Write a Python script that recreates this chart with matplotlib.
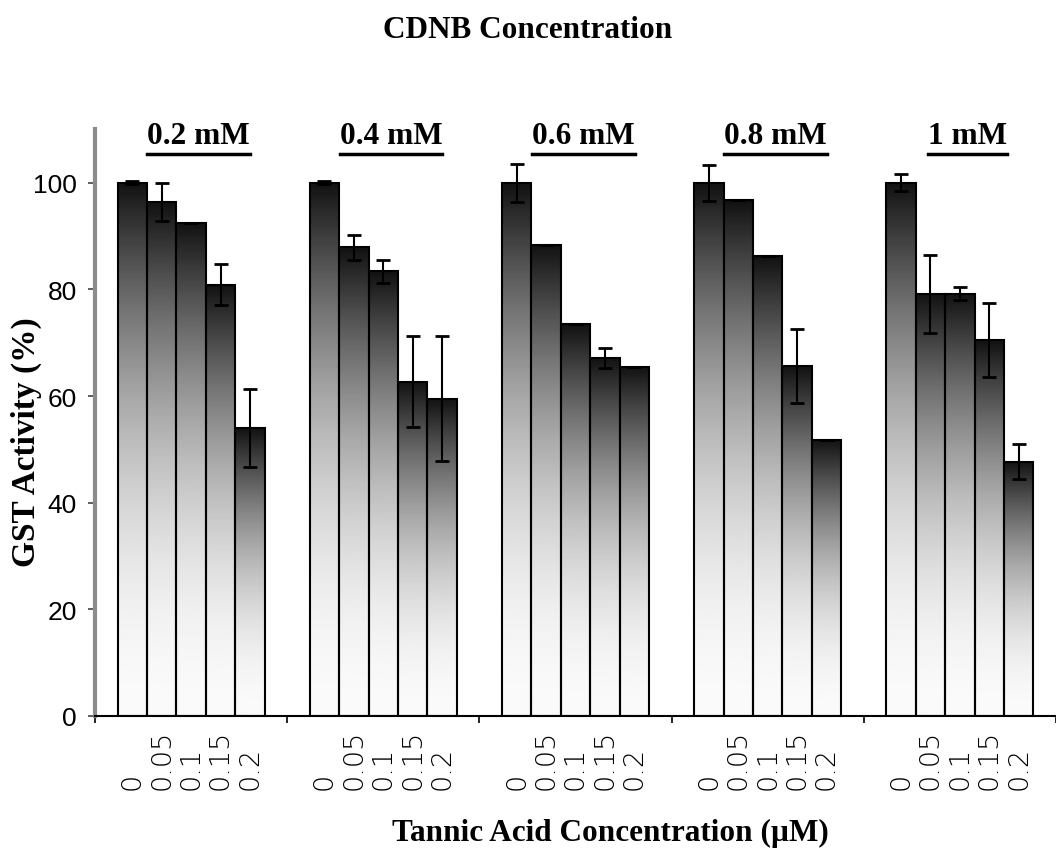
import numpy as np
import matplotlib
matplotlib.use("Agg")
import matplotlib.pyplot as plt
from matplotlib.lines import Line2D

# GST activity (%) for each CDNB concentration, bars = tannic acid doses
cdnb_labels = ["0.2 mM", "0.4 mM", "0.6 mM", "0.8 mM", "1 mM"]
tannic_labels = ["0", "0.05", "0.1", "0.15", "0.2"]

activity = [
    [100.0, 96.4, 92.5, 80.9, 54.0],
    [100.0, 87.9, 83.4, 62.7, 59.5],
    [100.0, 88.4, 73.5, 67.2, 65.5],
    [100.0, 96.7, 86.2, 65.6, 51.8],
    [100.0, 79.2, 79.2, 70.5, 47.7],
]
errors = [
    [0.3, 3.6, 0.0, 3.8, 7.3],
    [0.3, 2.3, 2.2, 8.5, 11.7],
    [3.6, 0.0, 0.0, 1.9, 0.0],
    [3.4, 0.0, 0.0, 6.9, 0.0],
    [1.6, 7.3, 1.2, 7.0, 3.3],
]

serif = ["Liberation Serif", "DejaVu Serif"]

fig = plt.figure(figsize=(10.56, 8.54), dpi=100)
ax = fig.add_axes([95 / 1056, 1 - 717 / 854, 1 - 95 / 1056, (717 - 130) / 854])

bar_w = 0.153
n = len(tannic_labels)

# vertical gradient: dark at the top of each bar, fading to white at the base
t = np.linspace(0, 1, 256)
shade = 0.07 + 0.91 * (1 - (1 - t) ** 2)   # t=0 top, t=1 bottom
grad = shade[:, None]

for g, (vals, errs) in enumerate(zip(activity, errors)):
    xs = g + (np.arange(n) - (n - 1) / 2) * bar_w
    for x, v in zip(xs, vals):
        ax.imshow(grad, cmap="gray", vmin=0, vmax=1, aspect="auto",
                  extent=[x - bar_w / 2, x + bar_w / 2, 0, v], zorder=1,
                  interpolation="bilinear")
    ax.bar(xs, vals, width=bar_w, facecolor="none", edgecolor="black",
           linewidth=1.5, zorder=2)
    ax.errorbar(xs, vals, yerr=errs, fmt="none", ecolor="black",
                elinewidth=1.5, capsize=5, capthick=2, zorder=3)
    for x, lab in zip(xs, tannic_labels):
        ax.text(x, -73 / 587, lab, transform=ax.get_xaxis_transform(),
                rotation=90, ha="center", va="bottom", fontsize=19.5,
                family="DejaVu Sans", fontweight="light")

ax.set_xlim(-0.5, -0.5 + 961 / 194)
ax.set_ylim(0, 110.1)

ax.set_xticks(np.arange(-0.5, 5, 1.0))
ax.set_xticklabels([])
ax.tick_params(axis="x", length=5, width=1.2, direction="out")
ax.set_yticks([0, 20, 40, 60, 80, 100])
ax.set_yticklabels(["0", "20", "40", "60", "80", "100"],
                   family="Liberation Sans", fontsize=19)
ax.tick_params(axis="y", length=5, width=1.2, pad=8, color="#444444")

for side in ["top", "right"]:
    ax.spines[side].set_visible(False)
ax.spines["left"].set_color("#8c8c8c")
ax.spines["left"].set_linewidth(3)
ax.spines["bottom"].set_linewidth(1.5)

# group headings with underline
heads = []
for g, lab in enumerate(cdnb_labels):
    heads.append(ax.text(g + 0.04, 107.5, lab, ha="center", va="baseline",
                         family=serif, fontweight="bold", fontsize=22.5))

fig.text(528 / 1056, 1 - 30 / 854, "CDNB Concentration", ha="center",
         va="center", family=serif, fontweight="bold", fontsize=22.5)
fig.text(26 / 1056, 1 - 442 / 854, "GST Activity (%)", ha="center",
         va="center", rotation=90, family=serif, fontweight="bold", fontsize=24)
fig.text(610 / 1056, 1 - 833 / 854, "Tannic Acid Concentration (µM)",
         ha="center", va="center", family=serif, fontweight="bold", fontsize=22.5)

fig.canvas.draw()
r = fig.canvas.get_renderer()
for h in heads:
    bb = h.get_window_extent(r)
    y = 1 - 155 / 854
    fig.add_artist(Line2D([bb.x0 / 1056, bb.x1 / 1056], [y, y],
                          color="black", linewidth=2.5))

fig.savefig("out.png", dpi=100)
